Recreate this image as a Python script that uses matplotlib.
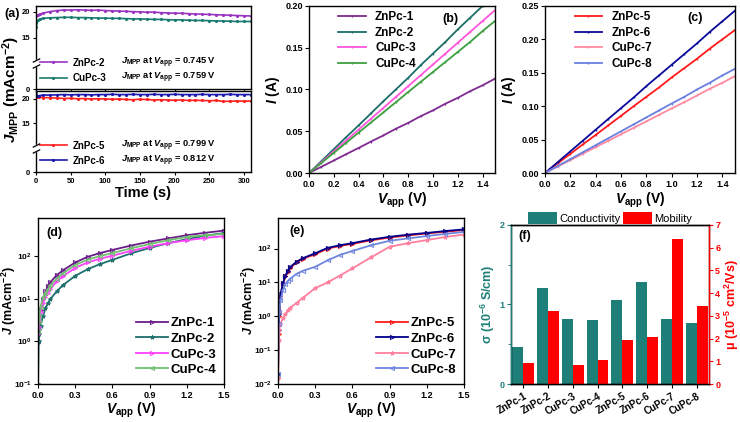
import numpy as np
import matplotlib
matplotlib.use('agg')
import matplotlib.pyplot as plt
from matplotlib.path import Path

plt.rcParams['font.family'] = ['Liberation Sans', 'DejaVu Sans']
plt.rcParams['font.weight'] = 'bold'
plt.rcParams['axes.labelweight'] = 'bold'
plt.rcParams['mathtext.fontset'] = 'custom'
plt.rcParams['mathtext.rm'] = 'Liberation Sans:bold'
plt.rcParams['mathtext.it'] = 'Liberation Sans:italic:bold'
plt.rcParams['mathtext.bf'] = 'Liberation Sans:bold'
plt.rcParams['axes.linewidth'] = 1.0
plt.rcParams['xtick.labelsize'] = 6.5
plt.rcParams['ytick.labelsize'] = 6.5
plt.rcParams['xtick.major.size'] = 3
plt.rcParams['ytick.major.size'] = 3
plt.rcParams['xtick.major.pad'] = 2
plt.rcParams['ytick.major.pad'] = 1.5

# ---- (a) stability at MPP ----
t_top = [0, 3, 6, 10, 20, 30, 40, 50, 60, 70, 80, 90, 100, 110, 120, 130, 140, 150, 160,
         170, 180, 190, 200, 210, 220, 230, 240, 250, 260, 270, 280, 290, 300, 310]
j_znpc2 = [19.2, 19.4, 19.5, 19.7, 20.0, 20.2, 20.3, 20.3, 20.35, 20.3, 20.25, 20.3, 20.2, 20.15,
           20.1, 20.05, 20.0, 19.95, 19.9, 19.9, 19.8, 19.75, 19.7, 19.7, 19.6, 19.55, 19.5,
           19.45, 19.4, 19.35, 19.3, 19.25, 19.2, 19.15]
j_cupc3 = [17.0, 18.3, 18.6, 18.7, 18.8, 18.85, 18.9, 18.9, 18.85, 18.85, 18.8, 18.75, 18.75,
           18.7, 18.7, 18.65, 18.6, 18.6, 18.55, 18.5, 18.5, 18.45, 18.4, 18.4, 18.35, 18.3,
           18.3, 18.25, 18.2, 18.2, 18.15, 18.1, 18.1, 18.1]
t_bot = [0, 2, 5, 10, 20, 30, 40, 50, 60, 70, 80, 90, 100, 110, 120, 130, 140, 150, 160,
         170, 180, 190, 200, 210, 220, 230, 240, 250, 260, 270, 280, 290, 300, 310]
j_znpc5 = [20.6, 20.4, 20.3, 20.2, 20.15, 20.1, 20.0, 20.05, 19.95, 20.0, 19.9, 19.95, 19.9,
           19.85, 19.9, 19.8, 19.75, 19.85, 19.8, 19.7, 19.75, 19.7, 19.65, 19.7, 19.6, 19.65,
           19.6, 19.55, 19.6, 19.4, 19.45, 19.5, 19.45, 19.5]
j_znpc6 = [21.6, 20.5, 20.6, 20.7, 20.7, 20.75, 20.8, 20.75, 20.8, 20.8, 20.75, 20.8, 20.8,
           20.85, 20.8, 20.8, 20.85, 20.8, 20.8, 20.85, 20.8, 20.8, 20.85, 20.8, 20.8, 20.8,
           20.85, 20.8, 20.8, 20.8, 20.85, 20.8, 20.8, 20.8]

# ---- (b), (c) I-V ----
v_lin = [0.0, 0.1, 0.2, 0.3, 0.4, 0.5, 0.6, 0.7, 0.8, 0.9, 1.0, 1.1, 1.2, 1.3, 1.4, 1.5]
i_znpc1 = [0, 0.0075, 0.015, 0.0226, 0.030, 0.0377, 0.045, 0.053, 0.060, 0.068, 0.075, 0.083,
           0.090, 0.098, 0.105, 0.113]
i_znpc2 = [0, 0.0143, 0.0286, 0.043, 0.057, 0.0715, 0.086, 0.100, 0.114, 0.129, 0.143, 0.157,
           0.172, 0.186, 0.200, 0.214]
i_cupc3 = [0, 0.013, 0.026, 0.039, 0.052, 0.065, 0.078, 0.091, 0.104, 0.117, 0.130, 0.143,
           0.156, 0.169, 0.182, 0.195]
i_cupc4 = [0, 0.0121, 0.0242, 0.0363, 0.0484, 0.0605, 0.0726, 0.0847, 0.097, 0.109, 0.121,
           0.133, 0.145, 0.157, 0.170, 0.182]
i_znpc5 = [0, 0.0143, 0.0286, 0.043, 0.057, 0.0713, 0.0856, 0.100, 0.114, 0.128, 0.143, 0.157,
           0.171, 0.186, 0.200, 0.214]
i_znpc6 = [0, 0.0162, 0.0324, 0.0486, 0.0648, 0.081, 0.097, 0.113, 0.130, 0.146, 0.162, 0.178,
           0.194, 0.211, 0.227, 0.243]
i_cupc7 = [0, 0.0097, 0.0193, 0.029, 0.0387, 0.0483, 0.058, 0.0677, 0.0773, 0.087, 0.0967,
           0.106, 0.116, 0.126, 0.135, 0.145]
i_cupc8 = [0, 0.0104, 0.0208, 0.0312, 0.0416, 0.052, 0.0624, 0.0728, 0.0832, 0.0936, 0.104,
           0.114, 0.125, 0.135, 0.146, 0.156]

# ---- (d), (e) J-V (log) ----
v_log = [0.0, 0.005, 0.01, 0.02, 0.04, 0.06, 0.08, 0.1, 0.15, 0.2, 0.3, 0.4, 0.5, 0.6, 0.75,
         0.9, 1.05, 1.2, 1.35, 1.5]
jd_znpc1 = [0.9, 2.0, 3.0, 5.5, 10, 15, 20, 25, 36, 47, 72, 98, 120, 142, 180, 222, 265, 315, 360, 405]
jd_znpc2 = [0.1, 1.0, 1.5, 2.3, 4.0, 6.0, 8.0, 10, 15, 21, 35, 50, 66, 83, 118, 158, 205, 255, 305, 355]
jd_cupc3 = [1.5, 2.2, 3.0, 5.0, 8.0, 11, 14, 17, 26, 34, 54, 72, 88, 104, 135, 170, 205, 240, 272, 300]
jd_cupc4 = [1.8, 2.8, 4.0, 6.5, 11, 14, 17, 21, 30, 40, 63, 84, 102, 120, 155, 195, 240, 288, 315, 340]
je_znpc5 = [0.015, 0.3, 1.0, 4.0, 9.0, 15, 21, 27, 39, 50, 68, 100, 120, 138, 175, 212, 245, 280, 315, 350]
je_znpc6 = [0.02, 0.4, 1.2, 4.5, 9.5, 16, 22, 29, 41, 52, 73, 105, 126, 145, 185, 223, 258, 290, 330, 370]
je_cupc7 = [0.015, 0.2, 0.4, 0.6, 0.9, 1.2, 1.5, 1.8, 2.5, 3.5, 6.8, 10, 16, 26, 55, 113, 145, 178, 220, 260]
je_cupc8 = [0.02, 0.6, 1.3, 3.0, 6.0, 9.0, 11, 13, 18, 22, 29, 45, 65, 85, 125, 170, 200, 234, 272, 310]

# ---- (f) bars ----
samples = ['ZnPc-1', 'ZnPc-2', 'CuPc-3', 'CuPc-4', 'ZnPc-5', 'ZnPc-6', 'CuPc-7', 'CuPc-8']
conductivity = [0.47, 1.21, 0.82, 0.81, 1.06, 1.28, 0.82, 0.77]
mobility = [0.92, 3.22, 0.85, 1.07, 1.95, 2.05, 6.37, 3.44]

fig = plt.figure(figsize=(7.4, 4.22), dpi=100)


def fwd(y):
    y = np.asarray(y, dtype=float)
    return np.where(y <= 5, y, np.where(y >= 10, y - 5, 5 + (y - 5) * 0.002))


def inv(u):
    u = np.asarray(u, dtype=float)
    return np.where(u <= 5, u, np.where(u >= 5.01, u + 5, 5 + (u - 5) / 0.002))


brk = Path([(-1, -1.3), (1, -0.3), (-1, 0.3), (1, 1.3)],
           [Path.MOVETO, Path.LINETO, Path.MOVETO, Path.LINETO])


def mpp_panel(ax, t1, y1, c1, l1, t2, y2, c2, l2, notes, ytop):
    ax.plot(t1, y1, color=c1, lw=1.2, marker='.', ms=2.5, label=l1)
    ax.plot(t2, y2, color=c2, lw=1.2, marker='.', ms=2.5, label=l2)
    ax.set_yscale('function', functions=(fwd, inv))
    ax.set_ylim(0, ytop)
    ax.set_xlim(0, 310)
    ax.set_yticks([0, 15, 20])
    ax.set_xticks(range(0, 301, 50))
    ax.tick_params(labelsize=5.5, length=2.5, pad=1.5)
    tr = ax.get_yaxis_transform()
    ax.plot([0], [7.5], transform=tr, marker='s', ms=4, color='white', clip_on=False, zorder=5)
    ax.plot([0], [7.5], transform=tr, marker=brk, ms=7, color='black', mew=0.9,
            clip_on=False, zorder=6)
    ax.legend(loc='lower left', bbox_to_anchor=(0.0, 0.03), frameon=False, fontsize=7,
              handlelength=2.8, labelspacing=0.55, borderaxespad=0.0, handletextpad=0.6)
    ax.text(0.395, 0.32, notes[0], transform=ax.transAxes, fontsize=6.7, va='center')
    ax.text(0.395, 0.14, notes[1], transform=ax.transAxes, fontsize=6.7, va='center')


ax_a1 = fig.add_axes([0.0486, 0.788, 0.2905, 0.198])
ax_a2 = fig.add_axes([0.0486, 0.592, 0.2905, 0.192])
mpp_panel(ax_a1, t_top, j_znpc2, '#9A35C2', 'ZnPc-2', t_top, j_cupc3, '#1B7A70', 'CuPc-3',
          [r'$J_{\rm MPP}$ at $V_{\rm app}$ = 0.745 V', r'$J_{\rm MPP}$ at $V_{\rm app}$ = 0.759 V'], 21.1)
mpp_panel(ax_a2, t_bot, j_znpc5, '#FF2020', 'ZnPc-5', t_bot, j_znpc6, '#1A1AAE', 'ZnPc-6',
          [r'$J_{\rm MPP}$ at $V_{\rm app}$ = 0.799 V', r'$J_{\rm MPP}$ at $V_{\rm app}$ = 0.812 V'], 21.5)
ax_a1.set_xticklabels([])
ax_a2.set_xlabel('Time (s)', fontsize=10.5, labelpad=1)
fig.text(0.015, 0.787, r'$J_{\rm MPP}$ (mAcm$^{-2}$)', rotation=90, ha='center', va='center',
         fontsize=11)
fig.text(0.006, 0.968, '(a)', fontsize=9, va='center')


def iv_panel(rect, series, ymax, yticks, tag):
    ax = fig.add_axes(rect)
    for vals, col, lab in series:
        ax.plot(v_lin, vals, color=col, lw=1.3, marker='|', ms=2, label=lab)
    ax.set_xlim(0, 1.5)
    ax.set_ylim(0, ymax)
    ax.set_xticks(np.arange(0, 1.41, 0.2))
    ax.set_yticks(yticks)
    ax.set_xlabel(r'$V_{\rm app}$ (V)', fontsize=10, labelpad=1)
    ax.set_ylabel(r'$I$ (A)', fontsize=10, labelpad=2)
    ax.legend(loc='upper left', bbox_to_anchor=(0.12, 1.01), frameon=False, fontsize=8.5,
              handlelength=2.3, labelspacing=0.3, borderaxespad=0.2)
    ax.text(tag[1], tag[2], tag[0], transform=ax.transAxes, fontsize=9, ha='center', va='center')
    return ax


iv_panel([0.4176, 0.590, 0.2514, 0.396],
         [(i_znpc1, '#7E2A90', 'ZnPc-1'), (i_znpc2, '#1B6E68', 'ZnPc-2'),
          (i_cupc3, '#FF55DD', 'CuPc-3'), (i_cupc4, '#3CA040', 'CuPc-4')],
         0.20, [0, 0.05, 0.10, 0.15, 0.20], ('(b)', 0.76, 0.92))
iv_panel([0.7365, 0.590, 0.2568, 0.396],
         [(i_znpc5, '#FF1A1A', 'ZnPc-5'), (i_znpc6, '#0A0A9A', 'ZnPc-6'),
          (i_cupc7, '#FF8AA0', 'CuPc-7'), (i_cupc8, '#6A80E0', 'CuPc-8')],
         0.25, [0, 0.05, 0.10, 0.15, 0.20, 0.25], ('(c)', 0.79, 0.93))


def jv_panel(rect, series, ylo, tag, label_x):
    ax = fig.add_axes(rect)
    for vals, col, mk, lab in series:
        ax.plot(v_log, vals, color=col, lw=1.3, marker=mk, ms=3, mfc='none', mew=0.7, label=lab)
    ax.set_yscale('log')
    ax.set_xlim(0, 1.5)
    ax.set_ylim(ylo, 800)
    ax.set_xticks(np.arange(0, 1.51, 0.3))
    ax.minorticks_off()
    ax.tick_params(axis='y', labelsize=6)
    ax.set_xlabel(r'$V_{\rm app}$ (V)', fontsize=10, labelpad=0.5)
    ax.set_ylabel(r'$J$ (mAcm$^{-2}$)', fontsize=9)
    ax.yaxis.set_label_coords(label_x, 0.5)
    ax.legend(loc='lower right', frameon=False, fontsize=9.5, handlelength=2.4,
              labelspacing=0.25, borderaxespad=0.2, handletextpad=0.2)
    ax.text(tag[1], tag[2], tag[0], transform=ax.transAxes, fontsize=9, ha='center', va='center')
    return ax


jv_panel([0.0514, 0.090, 0.2513, 0.3934],
         [(jd_znpc1, '#6A1B8A', '>', 'ZnPc-1'), (jd_znpc2, '#1E6E6E', '*', 'ZnPc-2'),
          (jd_cupc3, '#FF40FF', '>', 'CuPc-3'), (jd_cupc4, '#70C070', '<', 'CuPc-4')],
         0.1, ('(d)', 0.09, 0.91), -0.11)
jv_panel([0.3757, 0.090, 0.2513, 0.3934],
         [(je_znpc5, '#FF1A1A', '>', 'ZnPc-5'), (je_znpc6, '#00008B', '>', 'ZnPc-6'),
          (je_cupc7, '#FF7F9F', '*', 'CuPc-7'), (je_cupc8, '#6F86DE', '<', 'CuPc-8')],
         0.01, ('(e)', 0.1, 0.92), -0.11)

# ---- (f) ----
teal = '#1E7F78'
red = '#FF0000'
ax_f = fig.add_axes([0.6905, 0.090, 0.2676, 0.377])
ax_f2 = ax_f.twinx()
x = np.arange(len(samples))
b1 = ax_f.bar(x - 0.22, conductivity, width=0.44, color=teal, label='Conductivity')
b2 = ax_f2.bar(x + 0.22, mobility, width=0.44, color=red, label='Mobility')
ax_f.set_xlim(-0.5, 7.5)
ax_f.set_ylim(0, 2)
ax_f2.set_ylim(0, 7)
ax_f.set_yticks([0, 1, 2])
ax_f.set_yticks([0.5, 1.5], minor=True)
ax_f2.set_yticks(range(8))
ax_f.set_xticks(x)
ax_f.set_xticklabels(samples, rotation=30, ha='right', rotation_mode='anchor', fontsize=7)
ax_f.tick_params(axis='y', colors=teal)
ax_f.tick_params(axis='y', which='minor', length=2, color=teal)
ax_f2.tick_params(axis='y', colors=red)
ax_f2.spines['left'].set_color(teal)
ax_f2.spines['right'].set_color(red)
ax_f.set_ylabel(r'σ (10$^{-6}$ S/cm)', color=teal, fontsize=9, labelpad=2)
ax_f2.set_ylabel(r'μ (10$^{-5}$ cm$^2$/Vs)', color=red, fontsize=9, labelpad=2)
ax_f.text(0.07, 0.93, '(f)', transform=ax_f.transAxes, fontsize=9, ha='center', va='center')
ax_f.legend([b1, b2], ['Conductivity', 'Mobility'], loc='lower center', bbox_to_anchor=(0.5, 0.98),
            ncol=2, frameon=False, prop={'size': 8, 'weight': 'normal'}, handlelength=2.6,
            handleheight=1.2, columnspacing=0.2, handletextpad=0.2, borderaxespad=0.0)

plt.savefig('out.png', dpi=100)
